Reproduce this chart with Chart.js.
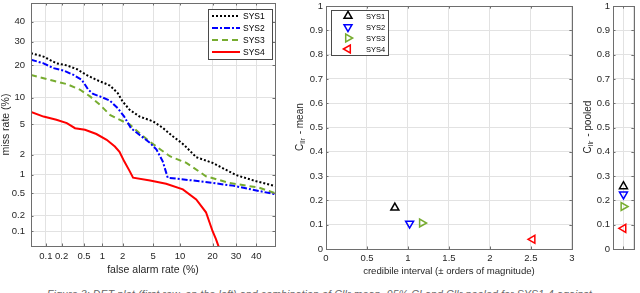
<!DOCTYPE html>
<html>
<head>
<meta charset="utf-8">
<script src="https://cdn.jsdelivr.net/npm/chart.js@4.4.1/dist/chart.umd.min.js"></script>
<style>
  html, body { margin: 0; padding: 0; background: #fff; width: 640px; height: 293px; overflow: hidden; }
  body { position: relative; }
  canvas { position: absolute; top: 0; }
  #det { left: 0; }
  #mean { left: 285px; }
  #pooled { left: 578px; }
  #caption { position: absolute; left: 47px; top: 288px; white-space: nowrap;
    font: italic 10.5px "Liberation Sans", Arial, sans-serif; color: #666; letter-spacing: 0.15px; }
</style>
</head>
<body>
<canvas id="det" width="285" height="285"></canvas>
<canvas id="mean" width="293" height="285"></canvas>
<canvas id="pooled" width="62" height="285"></canvas>
<div id="caption">Figure 3: DET plot (first row, on the left) and combination of Cllr mean, 95% CI and Cllr pooled for SYS1-4 against</div>
<script>
// systems
const systems = ['SYS1', 'SYS2', 'SYS3', 'SYS4'];

// DET curves: false alarm rate (%) and miss rate (%)
const far1 = [0.05, 0.09, 0.16, 0.25, 0.38, 0.55, 0.8, 1.3, 1.7, 2.0, 2.5, 3.4, 5.0, 6.5, 8.4, 9.9, 11.1, 14.4, 20, 30, 40, 50];
const miss1 = [24.8, 23.4, 20.7, 19.9, 18.5, 16.5, 14.9, 13.2, 11.1, 9.1, 7.4, 6.2, 5.45, 4.55, 3.55, 3.05, 2.7, 1.84, 1.52, 0.99, 0.79, 0.66];
const far2 = [0.05, 0.09, 0.14, 0.22, 0.33, 0.46, 0.59, 0.71, 0.91, 1.3, 1.7, 2.1, 2.6, 3.4, 4.6, 5.5, 6.5, 7.4, 15.4, 28.4, 50];
const miss2 = [22.1, 20.7, 18.9, 18.0, 16.5, 14.9, 12.0, 10.9, 10.3, 9.3, 7.7, 6.2, 4.5, 3.7, 2.9, 2.36, 1.6, 0.9, 0.79, 0.67, 0.48];
const far3 = [0.05, 0.14, 0.25, 0.43, 0.63, 0.91, 1.3, 1.8, 2.5, 3.4, 4.6, 7.8, 11.6, 17.6, 26.9, 41.5, 50];
const miss3 = [16.5, 14.6, 13.6, 12.0, 10.3, 8.4, 6.5, 5.7, 5.0, 3.9, 3.0, 1.9, 1.52, 0.95, 0.74, 0.62, 0.5];
const far4 = [0.05, 0.09, 0.16, 0.25, 0.35, 0.52, 0.8, 1.16, 1.54, 1.8, 2.1, 2.5, 2.78, 4.6, 7.1, 10.7, 14.4, 17.6, 20, 21.3, 22.4, 23];
const miss4 = [7.0, 6.2, 5.7, 5.2, 4.5, 4.3, 3.8, 3.2, 2.6, 2.2, 1.6, 1.14, 0.9, 0.81, 0.72, 0.58, 0.39, 0.23, 0.1, 0.069, 0.048, 0.03];
const detTicks = [0.1, 0.2, 0.5, 1, 2, 5, 10, 20, 30, 40];

// Cllr: credible interval width, mean and pooled
const ciWidth = [0.84, 1.02, 1.17, 2.52];
const cllrMean = [0.17, 0.105, 0.107, 0.04];
const cllrPooled = [0.258, 0.225, 0.175, 0.085];

const colors = ['#000000', '#0000ff', '#77ac30', '#ff0000'];
const dashes = [[2, 2], [6, 2, 2, 2], [6, 4], []];
const markerTurn = [0, 180, 90, -90];   // triangle ^ v > <

const FONT = '"Liberation Sans", Arial, sans-serif';
const INK = '#262626';
const GRID = '#e2e2e2';

// inverse normal cdf (Acklam)
function probit(p) {
  const a = [-39.69683028665376, 220.9460984245205, -275.9285104469687, 138.357751867269, -30.66479806614716, 2.506628277459239];
  const b = [-54.47609879822406, 161.5858368580409, -155.6989798598866, 66.80131188771972, -13.28068155288572];
  const c = [-0.007784894002430293, -0.3223964580411365, -2.400758277161838, -2.549732539343734, 4.374664141464968, 2.938163982698783];
  const d = [0.007784695709041462, 0.3224671290700398, 2.445134137142996, 3.754408661907416];
  const pl = 0.02425;
  let q, r;
  if (p < pl) {
    q = Math.sqrt(-2 * Math.log(p));
    return (((((c[0]*q+c[1])*q+c[2])*q+c[3])*q+c[4])*q+c[5]) / ((((d[0]*q+d[1])*q+d[2])*q+d[3])*q+1);
  }
  if (p <= 1 - pl) {
    q = p - 0.5; r = q * q;
    return (((((a[0]*r+a[1])*r+a[2])*r+a[3])*r+a[4])*r+a[5])*q / (((((b[0]*r+b[1])*r+b[2])*r+b[3])*r+b[4])*r+1);
  }
  q = Math.sqrt(-2 * Math.log(1 - p));
  return -(((((c[0]*q+c[1])*q+c[2])*q+c[3])*q+c[4])*q+c[5]) / ((((d[0]*q+d[1])*q+d[2])*q+d[3])*q+1);
}

// normal deviate scale for the DET plot, values in percent
class ProbitScale extends Chart.Scale {
  determineDataLimits() {
    this.min = this.options.min;
    this.max = this.options.max;
  }
  buildTicks() {
    return this.options.tickValues.map(v => ({ value: v }));
  }
  getLabelForValue(v) { return String(v); }
  configure() {
    super.configure();
    this._lo = probit(this.min / 100);
    this._hi = probit(this.max / 100);
  }
  getPixelForValue(v) {
    const p = Math.min(Math.max(v / 100, 1e-7), 1 - 1e-7);
    return this.getPixelForDecimal((probit(p) - this._lo) / (this._hi - this._lo));
  }
  getValueForPixel(px) {
    return this.getDecimalForPixel(px);
  }
}
ProbitScale.id = 'probit';
ProbitScale.defaults = {};
Chart.register(ProbitScale);

// keep the plot box where the layout puts it
function noEdgePad(s) {
  s.paddingTop = 0; s.paddingBottom = 0; s.paddingLeft = 0; s.paddingRight = 0;
}

// MATLAB style box with inward ticks
const axesBox = {
  id: 'axesBox',
  afterDraw(chart) {
    const { ctx, chartArea: a, scales } = chart;
    const L = 2.5;
    ctx.save();
    ctx.strokeStyle = '#6e6e6e';
    ctx.lineWidth = 1;
    ctx.beginPath();
    scales.x.ticks.forEach((t, i) => {
      const px = Math.round(scales.x.getPixelForTick(i)) + 0.5;
      ctx.moveTo(px, a.bottom); ctx.lineTo(px, a.bottom - L);
      ctx.moveTo(px, a.top); ctx.lineTo(px, a.top + L);
    });
    scales.y.ticks.forEach((t, i) => {
      const py = Math.round(scales.y.getPixelForTick(i)) + 0.5;
      ctx.moveTo(a.left, py); ctx.lineTo(a.left + L, py);
      ctx.moveTo(a.right, py); ctx.lineTo(a.right - L, py);
    });
    ctx.stroke();
    ctx.strokeRect(Math.round(a.left) + 0.5, Math.round(a.top) + 0.5,
      Math.round(a.right - a.left), Math.round(a.bottom - a.top));
    ctx.restore();
  }
};

// legend box inside the axes
const boxLegend = {
  id: 'boxLegend',
  afterDraw(chart, args, o) {
    if (!o || !o.show) return;
    const ctx = chart.ctx;
    ctx.save();
    ctx.fillStyle = '#fff';
    ctx.fillRect(o.left, o.top, o.width, o.height);
    ctx.strokeStyle = '#4a4a4a';
    ctx.lineWidth = 1;
    ctx.strokeRect(o.left + 0.5, o.top + 0.5, o.width, o.height);
    ctx.font = o.size + 'px ' + FONT;
    ctx.textBaseline = 'middle';
    chart.data.datasets.forEach((ds, i) => {
      const y = o.top + o.first + i * o.gap;
      if (o.kind === 'line') {
        ctx.strokeStyle = ds.borderColor;
        ctx.lineWidth = ds.borderWidth;
        ctx.setLineDash(ds.borderDash);
        ctx.beginPath();
        ctx.moveTo(o.symbolX, y);
        ctx.lineTo(o.symbolX + o.symbolW, y);
        ctx.stroke();
        ctx.setLineDash([]);
      } else {
        ctx.strokeStyle = ds.pointBorderColor;
        ctx.fillStyle = 'rgba(0,0,0,0)';
        ctx.lineWidth = ds.pointBorderWidth;
        Chart.helpers.drawPoint(ctx, {
          pointStyle: ds.pointStyle, rotation: ds.pointRotation,
          radius: ds.pointRadius, borderWidth: ds.pointBorderWidth
        }, o.symbolX, y);
      }
      ctx.fillStyle = '#000';
      ctx.fillText(ds.label, o.textX, y + 0.5);
    });
    ctx.restore();
  }
};

// y title with subscript: C_llr - ...
const subTitle = {
  id: 'subTitle',
  afterDraw(chart, args, o) {
    if (!o || !o.tail) return;
    const { ctx, chartArea: a } = chart;
    const big = o.size + 'px ' + FONT, small = (o.size * 0.72) + 'px ' + FONT;
    ctx.save();
    ctx.translate(o.x, (a.top + a.bottom) / 2);
    ctx.rotate(-Math.PI / 2);
    ctx.fillStyle = INK;
    ctx.textBaseline = 'alphabetic';
    ctx.font = big;
    const w1 = ctx.measureText('C').width, w3 = ctx.measureText(o.tail).width;
    ctx.font = small;
    const w2 = ctx.measureText('llr').width;
    let x = -(w1 + w2 + w3) / 2;
    ctx.font = big; ctx.fillText('C', x, 3.5); x += w1;
    ctx.font = small; ctx.fillText('llr', x, 6); x += w2 + 1;
    ctx.font = big; ctx.fillText(o.tail, x, 3.5);
    ctx.restore();
  }
};

const tickFont = { family: FONT, size: 9.5 };
const plainNum = v => String(+Number(v).toFixed(2));

// DET plot
const detSeries = [[far1, miss1], [far2, miss2], [far3, miss3], [far4, miss4]];
new Chart(document.getElementById('det'), {
  type: 'line',
  data: {
    datasets: systems.map((s, i) => ({
      label: s,
      data: detSeries[i][0].map((f, k) => ({ x: f, y: detSeries[i][1][k] })),
      borderColor: colors[i],
      borderWidth: 2,
      borderDash: dashes[i],
      pointRadius: 0,
      tension: 0,
      fill: false
    }))
  },
  options: {
    responsive: false, animation: false, events: [],
    layout: { padding: { top: 3, right: 10, left: 0, bottom: 0 } },
    plugins: {
      legend: { display: false }, tooltip: { enabled: false },
      boxLegend: { show: true, kind: 'line', left: 208, top: 9, width: 64, height: 50,
        first: 7, gap: 12, symbolX: 212, symbolW: 28, textX: 243, size: 8.5 }
    },
    scales: {
      x: {
        type: 'probit', min: 0.05, max: 50, tickValues: detTicks,
        ticks: { autoSkip: false, maxRotation: 0, padding: 5, color: INK, font: tickFont },
        grid: { color: GRID, drawTicks: false }, border: { display: false },
        title: { display: true, text: 'false alarm rate (%)', color: INK,
          font: { family: FONT, size: 10.5 }, padding: { top: 0, bottom: 9 } },
        afterFit(s) { s.height = 39; noEdgePad(s); }
      },
      y: {
        type: 'probit', min: 0.05, max: 50, tickValues: detTicks,
        ticks: { autoSkip: false, padding: 6, color: INK, font: tickFont },
        grid: { color: GRID, drawTicks: false }, border: { display: false },
        title: { display: true, text: 'miss rate (%)', color: INK,
          font: { family: FONT, size: 10.5 }, padding: { top: 0, bottom: 0 } },
        afterFit(s) { s.width = 31; noEdgePad(s); }
      }
    }
  },
  plugins: [axesBox, boxLegend]
});

function markerSets(xs, ys) {
  return systems.map((s, i) => ({
    label: s,
    data: [{ x: xs[i], y: ys[i] }],
    pointStyle: 'triangle',
    pointRotation: markerTurn[i],
    pointRadius: 4.6,
    pointBorderWidth: 1.5,
    pointBorderColor: colors[i],
    pointBackgroundColor: 'rgba(0,0,0,0)'
  }));
}

// Cllr mean vs credible interval
new Chart(document.getElementById('mean'), {
  type: 'scatter',
  data: { datasets: markerSets(ciWidth, cllrMean) },
  options: {
    responsive: false, animation: false, events: [],
    layout: { padding: { top: 3, right: 4, left: 0, bottom: 0 } },
    plugins: {
      legend: { display: false }, tooltip: { enabled: false },
      boxLegend: { show: true, kind: 'point', left: 46, top: 10, width: 57, height: 45,
        first: 6, gap: 11, symbolX: 63, textX: 81, size: 7.5 },
      subTitle: { tail: ' - mean', x: 14, size: 10 }
    },
    scales: {
      x: {
        type: 'linear', min: 0, max: 3,
        ticks: { stepSize: 0.5, maxRotation: 0, padding: 4, color: INK, font: tickFont, callback: plainNum },
        grid: { color: GRID, drawTicks: false }, border: { display: false },
        title: { display: true, text: 'credibile interval (\u00b1 orders of magnitude)', color: INK,
          font: { family: FONT, size: 9.6 }, padding: { top: 0, bottom: 8 } },
        afterFit(s) { s.height = 36; noEdgePad(s); }
      },
      y: {
        type: 'linear', min: 0, max: 1,
        ticks: { stepSize: 0.1, padding: 3, color: INK, font: tickFont, callback: plainNum },
        grid: { color: GRID, drawTicks: false }, border: { display: false },
        afterFit(s) { s.width = 41; noEdgePad(s); }
      }
    }
  },
  plugins: [axesBox, boxLegend, subTitle]
});

// Cllr pooled
const pooledX = [1, 1, 1, 1];
new Chart(document.getElementById('pooled'), {
  type: 'scatter',
  data: { datasets: markerSets(pooledX, cllrPooled) },
  options: {
    responsive: false, animation: false, events: [],
    layout: { padding: { top: 3, right: 1, left: 0, bottom: 0 } },
    plugins: {
      legend: { display: false }, tooltip: { enabled: false },
      subTitle: { tail: ' - pooled', x: 9, size: 10 }
    },
    scales: {
      x: {
        type: 'linear', min: 0, max: 2,
        ticks: { stepSize: 1, display: false },
        grid: { color: GRID, drawTicks: false }, border: { display: false },
        afterFit(s) { s.height = 36; noEdgePad(s); }
      },
      y: {
        type: 'linear', min: 0, max: 1,
        ticks: { stepSize: 0.1, padding: 3, color: INK, font: tickFont, callback: plainNum },
        grid: { color: GRID, drawTicks: false }, border: { display: false },
        afterFit(s) { s.width = 35; noEdgePad(s); }
      }
    }
  },
  plugins: [axesBox, subTitle]
});
</script>
</body>
</html>
